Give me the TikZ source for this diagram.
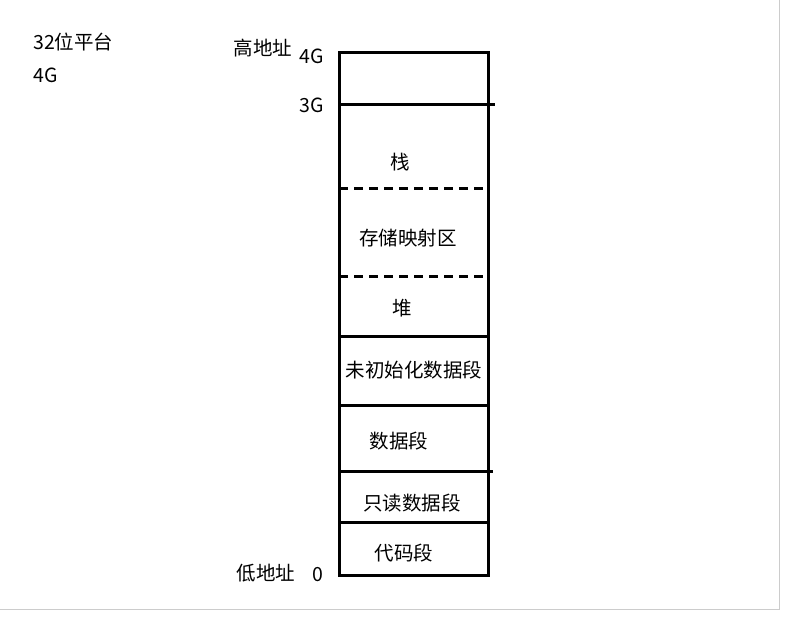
\documentclass[tikz,border=0pt]{standalone}
\usepackage{fontspec}
\setmainfont{Noto Sans CJK SC}
\begin{document}
\begin{tikzpicture}[x=1pt,y=-1pt,
  lbl/.style={font=\fontsize{19.5}{22}\selectfont,inner sep=0pt},
  wall/.style={line width=3pt},
  dsh/.style={line width=3pt,dash pattern=on 9pt off 6pt}]
\useasboundingbox (0,0) rectangle (788,618);
\draw[gray!40] (779,0) -- (779,609) -- (0,609);
\node[lbl,anchor=west] (p32) at (33,42) {32位平台};
\node[lbl,anchor=west] (p4g) at (33,75) {4G};
\draw[wall] (339,53) rectangle (488,575);
\draw[wall] (339,105) -- (495,105);
\draw[dsh] (339,188) -- (488,188);
\draw[dsh] (339,276) -- (488,276);
\draw[wall] (339,336) -- (488,336);
\draw[wall] (339,405) -- (488,405);
\draw[wall] (339,471) -- (493,471);
\draw[wall] (339,522) -- (488,522);
\node[lbl] (hi) at (263,48) {高地址};
\node[lbl] (g4) at (312,56) {4G};
\node[lbl] (g3) at (312,105) {3G};
\node[lbl] (lo) at (266,573) {低地址};
\node[lbl] (z) at (318,575) {0};
\node[lbl] (s1) at (400,162) {栈};
\node[lbl] (s2) at (408,238) {存储映射区};
\node[lbl] (s3) at (402,308) {堆};
\node[lbl] (s4) at (414,370) {未初始化数据段};
\node[lbl] (s5) at (399,441) {数据段};
\node[lbl] (s6) at (412,503) {只读数据段};
\node[lbl] (s7) at (404,553) {代码段};
\end{tikzpicture}
\end{document}
